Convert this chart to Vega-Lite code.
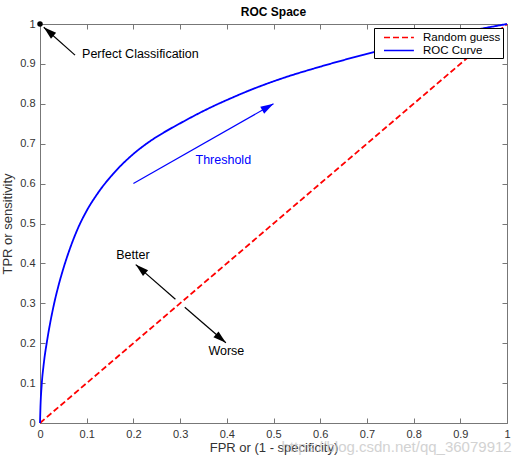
{
  "$schema": "https://vega.github.io/schema/vega-lite/v6.json",
  "width": 467,
  "height": 399,
  "autosize": {"type": "none"},
  "padding": {"left": 40, "top": 24, "right": 14, "bottom": 41},
  "background": "white",
  "title": {"text": "ROC Space", "fontSize": 12, "fontWeight": "bold", "offset": -1, "color": "black", "font": "Liberation Sans"},
  "datasets": {
    "curves": [
      {"series": "Random guess", "fpr": 0, "tpr": 0},
      {"series": "Random guess", "fpr": 1, "tpr": 1},
      {"series": "ROC Curve", "fpr": 0, "tpr": 0},
      {"series": "ROC Curve", "fpr": 0.001, "tpr": 0.04},
      {"series": "ROC Curve", "fpr": 0.0036, "tpr": 0.095},
      {"series": "ROC Curve", "fpr": 0.008, "tpr": 0.148},
      {"series": "ROC Curve", "fpr": 0.015, "tpr": 0.205},
      {"series": "ROC Curve", "fpr": 0.022, "tpr": 0.252},
      {"series": "ROC Curve", "fpr": 0.03, "tpr": 0.298},
      {"series": "ROC Curve", "fpr": 0.04, "tpr": 0.346},
      {"series": "ROC Curve", "fpr": 0.05, "tpr": 0.387},
      {"series": "ROC Curve", "fpr": 0.065, "tpr": 0.44},
      {"series": "ROC Curve", "fpr": 0.082, "tpr": 0.49},
      {"series": "ROC Curve", "fpr": 0.1, "tpr": 0.532},
      {"series": "ROC Curve", "fpr": 0.125, "tpr": 0.578},
      {"series": "ROC Curve", "fpr": 0.157, "tpr": 0.625},
      {"series": "ROC Curve", "fpr": 0.19, "tpr": 0.664},
      {"series": "ROC Curve", "fpr": 0.228, "tpr": 0.7},
      {"series": "ROC Curve", "fpr": 0.265, "tpr": 0.728},
      {"series": "ROC Curve", "fpr": 0.3, "tpr": 0.751},
      {"series": "ROC Curve", "fpr": 0.335, "tpr": 0.773},
      {"series": "ROC Curve", "fpr": 0.371, "tpr": 0.794},
      {"series": "ROC Curve", "fpr": 0.407, "tpr": 0.813},
      {"series": "ROC Curve", "fpr": 0.443, "tpr": 0.831},
      {"series": "ROC Curve", "fpr": 0.514, "tpr": 0.862},
      {"series": "ROC Curve", "fpr": 0.6, "tpr": 0.893},
      {"series": "ROC Curve", "fpr": 0.7, "tpr": 0.925},
      {"series": "ROC Curve", "fpr": 0.8, "tpr": 0.953},
      {"series": "ROC Curve", "fpr": 0.9, "tpr": 0.978},
      {"series": "ROC Curve", "fpr": 1, "tpr": 1}
    ],
    "arrows": [
      {"name": "perfect", "x": 0.075, "y": 0.922, "x2": 0.008, "y2": 0.992},
      {"name": "better", "x": 0.29, "y": 0.31, "x2": 0.205, "y2": 0.397},
      {"name": "worse", "x": 0.31, "y": 0.29, "x2": 0.398, "y2": 0.201},
      {"name": "threshold", "x": 0.2, "y": 0.6, "x2": 0.5, "y2": 0.8}
    ],
    "labels": [
      {"name": "perfect", "text": "Perfect Classification", "x": 0.215, "y": 0.925},
      {"name": "better", "text": "Better", "x": 0.199, "y": 0.421},
      {"name": "worse", "text": "Worse", "x": 0.399, "y": 0.181},
      {"name": "threshold", "text": "Threshold", "x": 0.3925, "y": 0.659}
    ],
    "corner": [{"x": 0, "y": 1}],
    "watermark": [{"text": "https://blog.csdn.net/qq_36079912", "x": 1.01, "y": -0.06}]
  },
  "layer": [
    {
      "data": {"name": "curves"},
      "mark": {"type": "line", "strokeWidth": 1.8, "interpolate": "monotone", "clip": false},
      "encoding": {
        "x": {
          "field": "fpr", "type": "quantitative",
          "scale": {"domain": [0, 1], "nice": false},
          "axis": {"orient": "bottom", "title": "FPR or (1 - specificity)", "values": [0, 0.1, 0.2, 0.3, 0.4, 0.5, 0.6, 0.7, 0.8, 0.9, 1], "format": ".1~f", "labelPadding": 10, "titlePadding": 2, "labelFlush": false}
        },
        "y": {
          "field": "tpr", "type": "quantitative",
          "scale": {"domain": [0, 1], "nice": false},
          "axis": {"orient": "left", "title": "TPR or sensitivity", "values": [0, 0.1, 0.2, 0.3, 0.4, 0.5, 0.6, 0.7, 0.8, 0.9, 1], "format": ".1~f", "labelPadding": 10, "titlePadding": 5, "labelFlush": false}
        },
        "color": {
          "field": "series", "type": "nominal",
          "scale": {"domain": ["Random guess", "ROC Curve"], "range": ["#ff0000", "#0000ff"]},
          "legend": {"title": null}
        },
        "strokeDash": {
          "field": "series", "type": "nominal",
          "scale": {"domain": ["Random guess", "ROC Curve"], "range": [[6, 3], [1, 0]]},
          "legend": {"title": null}
        }
      }
    },
    {
      "data": {"name": "arrows"},
      "transform": [{"filter": "datum.name !== 'threshold'"}],
      "mark": {"type": "rule", "color": "black", "strokeWidth": 1.2},
      "encoding": {
        "x": {"field": "x", "type": "quantitative", "axis": null},
        "y": {"field": "y", "type": "quantitative", "axis": null},
        "x2": {"field": "x2"},
        "y2": {"field": "y2"}
      }
    },
    {
      "data": {"name": "arrows"},
      "transform": [{"filter": "datum.name === 'threshold'"}],
      "mark": {"type": "rule", "color": "#0000ff", "strokeWidth": 1.2},
      "encoding": {
        "x": {"field": "x", "type": "quantitative", "axis": null},
        "y": {"field": "y", "type": "quantitative", "axis": null},
        "x2": {"field": "x2"},
        "y2": {"field": "y2"}
      }
    },
    {
      "data": {"name": "arrows"},
      "transform": [{"filter": "datum.name === 'perfect' || datum.name === 'better'"}],
      "mark": {"type": "point", "shape": "M0,0L-0.3,1L0.3,1Z", "filled": true, "color": "black", "opacity": 1, "size": 676, "angle": 311},
      "encoding": {
        "x": {"field": "x2", "type": "quantitative", "axis": null},
        "y": {"field": "y2", "type": "quantitative", "axis": null}
      }
    },
    {
      "data": {"name": "arrows"},
      "transform": [{"filter": "datum.name === 'worse'"}],
      "mark": {"type": "point", "shape": "M0,0L-0.3,1L0.3,1Z", "filled": true, "color": "black", "opacity": 1, "size": 676, "angle": 130.5},
      "encoding": {
        "x": {"field": "x2", "type": "quantitative", "axis": null},
        "y": {"field": "y2", "type": "quantitative", "axis": null}
      }
    },
    {
      "data": {"name": "arrows"},
      "transform": [{"filter": "datum.name === 'threshold'"}],
      "mark": {"type": "point", "shape": "M0,0L-0.3,1L0.3,1Z", "filled": true, "color": "#0000ff", "opacity": 1, "size": 676, "angle": 60.3},
      "encoding": {
        "x": {"field": "x2", "type": "quantitative", "axis": null},
        "y": {"field": "y2", "type": "quantitative", "axis": null}
      }
    },
    {
      "data": {"name": "corner"},
      "mark": {"type": "point", "filled": true, "color": "black", "opacity": 1, "size": 30, "clip": false},
      "encoding": {
        "x": {"field": "x", "type": "quantitative", "axis": null},
        "y": {"field": "y", "type": "quantitative", "axis": null}
      }
    },
    {
      "data": {"name": "labels"},
      "transform": [{"filter": "datum.name !== 'threshold'"}],
      "mark": {"type": "text", "font": "Liberation Sans", "fontSize": 12.5, "color": "black", "align": "center", "baseline": "middle"},
      "encoding": {
        "x": {"field": "x", "type": "quantitative", "axis": null},
        "y": {"field": "y", "type": "quantitative", "axis": null},
        "text": {"field": "text"}
      }
    },
    {
      "data": {"name": "labels"},
      "transform": [{"filter": "datum.name === 'threshold'"}],
      "mark": {"type": "text", "font": "Liberation Sans", "fontSize": 12.5, "color": "#0000ff", "align": "center", "baseline": "middle"},
      "encoding": {
        "x": {"field": "x", "type": "quantitative", "axis": null},
        "y": {"field": "y", "type": "quantitative", "axis": null},
        "text": {"field": "text"}
      }
    },
    {
      "data": {"name": "watermark"},
      "mark": {"type": "text", "font": "Liberation Sans", "fontSize": 15, "color": "#c8c8c8", "opacity": 0.8, "align": "right", "baseline": "middle", "clip": false},
      "encoding": {
        "x": {"field": "x", "type": "quantitative", "axis": null},
        "y": {"field": "y", "type": "quantitative", "axis": null},
        "text": {"field": "text"}
      }
    },
    {
      "data": {"name": "corner"},
      "mark": {"type": "point", "opacity": 0},
      "encoding": {
        "x": {"field": "x", "type": "quantitative", "axis": {"orient": "top", "labels": false, "title": null, "values": [0, 0.1, 0.2, 0.3, 0.4, 0.5, 0.6, 0.7, 0.8, 0.9, 1]}},
        "y": {"field": "y", "type": "quantitative", "axis": {"orient": "right", "labels": false, "title": null, "values": [0, 0.1, 0.2, 0.3, 0.4, 0.5, 0.6, 0.7, 0.8, 0.9, 1]}}
      }
    }
  ],
  "config": {
    "view": {"stroke": "#777777", "strokeWidth": 1},
    "axis": {
      "domain": false, "grid": false, "tickSize": -5, "tickColor": "#777777", "tickWidth": 1,
      "labelFont": "Liberation Sans", "labelFontSize": 11, "labelColor": "#333333",
      "titleFont": "Liberation Sans", "titleFontSize": 13, "titleFontWeight": "normal", "titleColor": "#333333"
    },
    "legend": {
      "orient": "top-right", "offset": 4, "strokeColor": "black", "fillColor": "white", "padding": 2,
      "labelFont": "Liberation Sans", "labelFontSize": 11.5, "labelColor": "black", "labelOffset": 25,
      "symbolType": "M-1,0H3.6", "symbolSize": 169, "symbolOffset": 7, "symbolStrokeWidth": 1.6, "rowPadding": 0, "cornerRadius": 0
    }
  }
}
